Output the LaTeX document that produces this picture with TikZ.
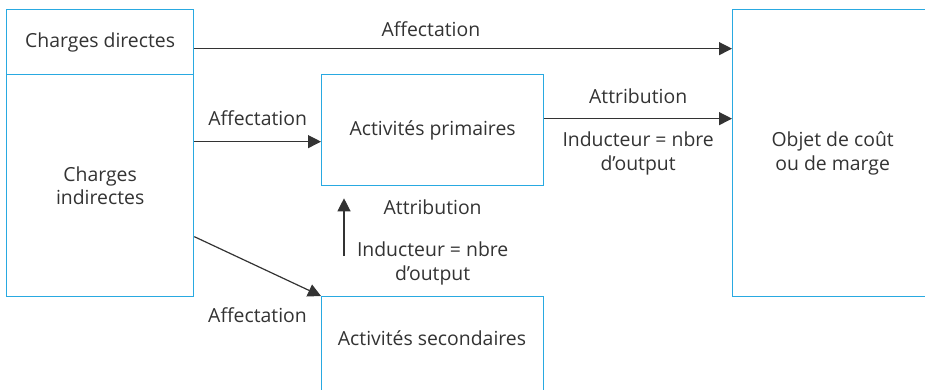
\documentclass[tikz,border=0pt]{standalone}
\usepackage{fontspec}
\setmainfont{Open Sans}
\usetikzlibrary{arrows.meta, positioning}
\definecolor{boxblue}{HTML}{29A9E1}
\definecolor{ink}{HTML}{333333}

\begin{document}
\begin{tikzpicture}[x=1pt, y=-1pt, font=\fontsize{19.4}{23.5}\selectfont, text=ink,
  box/.style={draw=boxblue, line width=1.3pt, inner sep=0pt, align=center, anchor=north west},
  flow/.style={draw=ink, line width=1.2pt, -{Triangle[length=13pt,width=13pt]}},
  lbl/.style={inner sep=0pt, align=center}]
  \useasboundingbox (0,0) rectangle (925,390);
  \clip (0,0) rectangle (925,390);
  % boxes
  \node[box, minimum width=187pt, minimum height=65pt] (direct) at (6,9) {Charges directes};
  \node[box, minimum width=187pt, minimum height=222pt] (indirect) at (6,74) {Charges\\indirectes};
  \node[box, minimum width=222pt, minimum height=111pt] (prim) at (321,74) {Activités primaires};
  \node[box, minimum width=222pt, minimum height=200pt] (sec) at (321,296) {};
  \node[lbl] (sectxt) at (432,338) {Activités secondaires};
  \node[box, minimum width=200pt, minimum height=287pt] (obj) at (732,9) {Objet de coût\\ou de marge};
  % flows
  \draw[flow] ([yshift=-6.5pt]direct.east) -- ([yshift=-6.5pt]direct.east -| obj.west)
    node[lbl, pos=0.44, above=11pt] (aff1) {Affectation};
  \draw[flow] ([yshift=-11.5pt]prim.west -| indirect.east) -- ([yshift=-11.5pt]prim.west)
    node[lbl, midway, above=15pt] (aff2) {Affectation};
  \draw[flow] ([yshift=11.5pt]prim.east) -- ([yshift=11.5pt]prim.east -| obj.west)
    node[lbl, midway, above=14pt] (attr1) {Attribution}
    node[lbl, midway, below=13pt] (ind1) {Inducteur = nbre\\d’output};
  \draw[flow] ([xshift=23pt, yshift=40pt]sec.north west) -- ([xshift=23pt, yshift=-12pt]prim.south west);
  \node[lbl, below=13pt of prim] (attr2) {Attribution};
  \node[lbl, above=11pt of sec] (ind2) {Inducteur = nbre\\d’output};
  \draw[flow] ([yshift=-51pt]indirect.east) -- (sec.north west);
  \node[lbl, below left=11pt and 14pt of sec.north west] (aff3) {Affectation};
\end{tikzpicture}
\end{document}
